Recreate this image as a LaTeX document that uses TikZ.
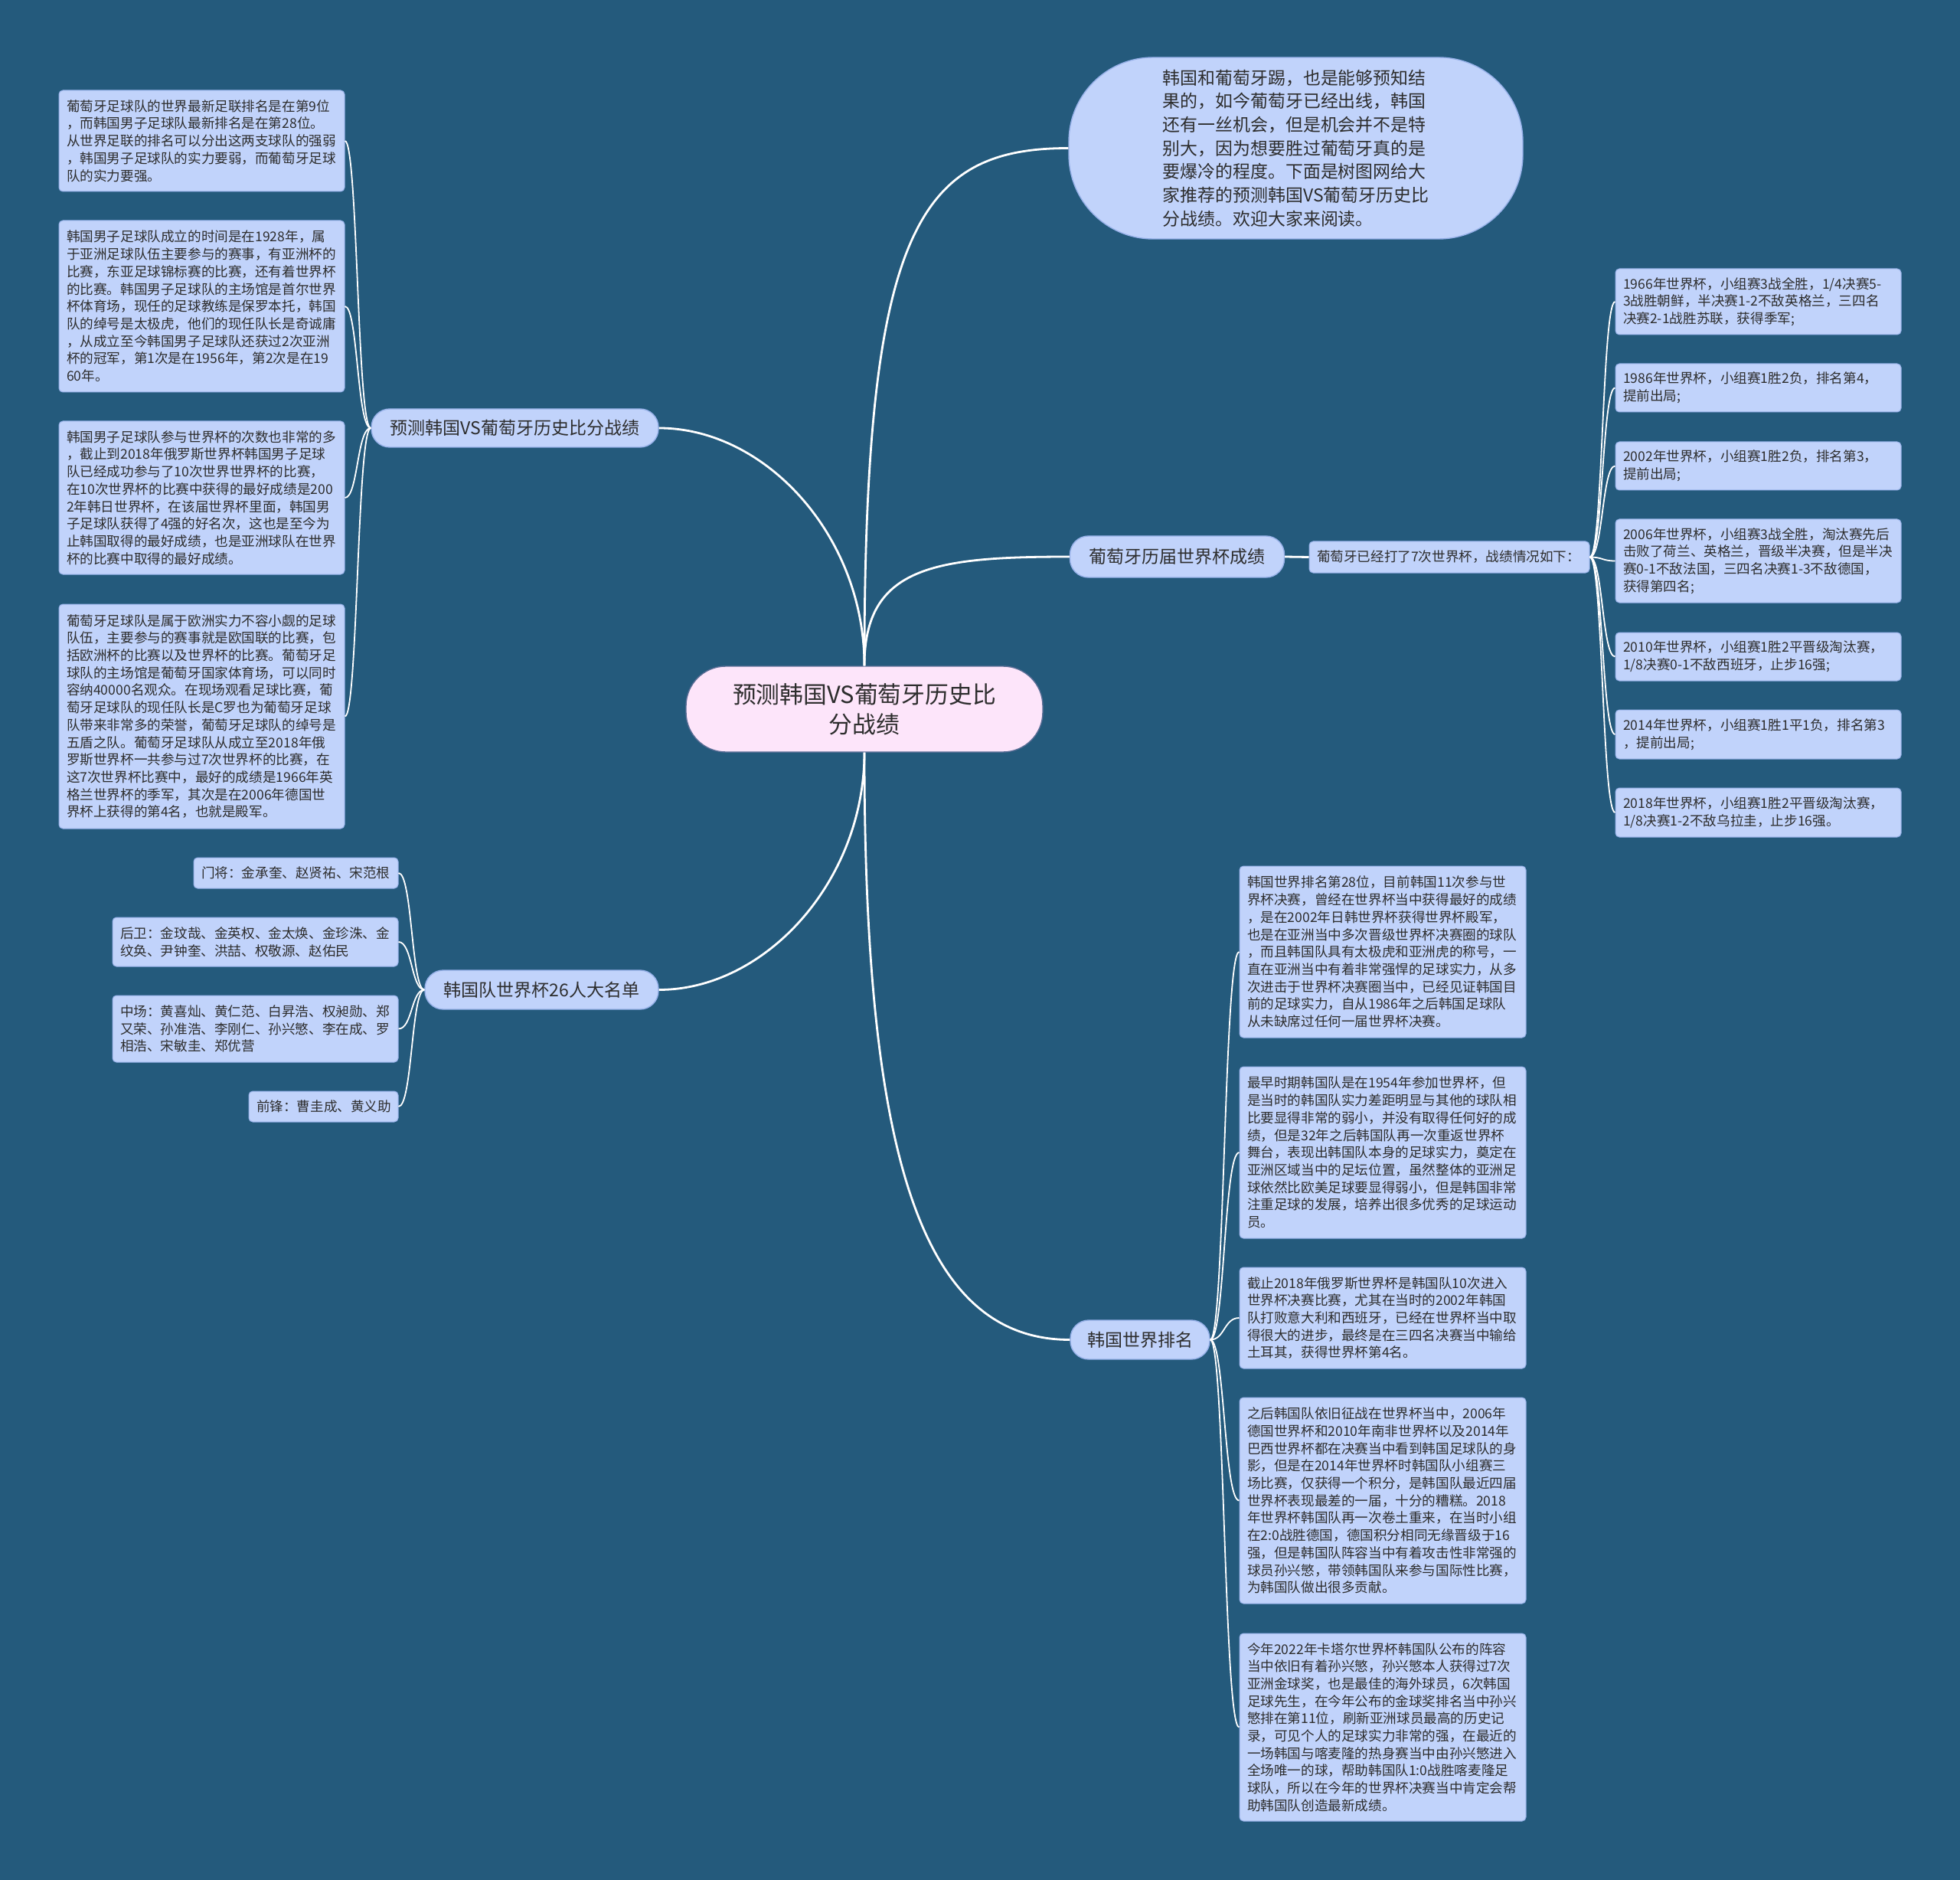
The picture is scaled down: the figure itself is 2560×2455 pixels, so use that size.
\documentclass[tikz,border=0pt]{standalone}
\usepackage{fontspec}
\setmainfont{Noto Sans CJK SC}
\usetikzlibrary{calc}
\definecolor{bg}{RGB}{36,90,124}
\definecolor{boxfill}{RGB}{193,211,251}
\definecolor{boxline}{RGB}{150,176,232}
\definecolor{ctrfill}{RGB}{253,229,250}
\definecolor{ctrline}{RGB}{90,110,150}
\definecolor{txt}{RGB}{45,45,45}
\tikzset{
  leaf/.style={draw=boxline, fill=boxfill, line width=0.5pt, rounded corners=2.5pt,
    font=\fontsize{8.8pt}{11.35pt}\selectfont, text=txt, align=left,
    inner xsep=5pt, inner ysep=0pt, anchor=center},
  branch/.style={draw=boxline, fill=boxfill, line width=0.7pt, rounded corners=12pt,
    font=\fontsize{11.5pt}{14pt}\selectfont, text=txt, align=center,
    inner sep=0pt, anchor=center},
  ctr/.style={draw=ctrline, fill=ctrfill, line width=0.7pt, rounded corners=26pt,
    font=\fontsize{15.4pt}{19.5pt}\selectfont, text=txt, align=center,
    inner sep=0pt, anchor=center},
  ovalbox/.style={draw=boxline, fill=boxfill, line width=0.7pt, rounded corners=55pt,
    font=\fontsize{11.45pt}{15.35pt}\selectfont, text=txt, align=left,
    inner sep=0pt, anchor=center},
  mainline/.style={draw=white, line width=1.4pt},
  leafcon/.style={draw=white, line width=0.9pt},
}
\begin{document}
\begin{tikzpicture}[x=0.5pt,y=-0.5pt]
\fill[bg] (0,0) rectangle (2560,2455);
\useasboundingbox (0,0) rectangle (2560,2455);

% central and main branches
\node[ctr, minimum width=233pt, minimum height=56pt] (c) at (1129,926) {预测韩国VS葡萄牙历史比\\分战绩};
\node[ovalbox, minimum width=296.5pt, minimum height=118.5pt] (o) at (1692.5,193.5) {韩国和葡萄牙踢，也是能够预知结\\果的，如今葡萄牙已经出线，韩国\\还有一丝机会，但是机会并不是特\\别大，因为想要胜过葡萄牙真的是\\要爆冷的程度。下面是树图网给大\\家推荐的预测韩国VS葡萄牙历史比\\分战绩。欢迎大家来阅读。};
\node[branch, minimum width=187.5pt, minimum height=25pt] (lb) at (672.5,559) {预测韩国VS葡萄牙历史比分战绩};
\node[branch, minimum width=140pt, minimum height=27pt] (pb) at (1537.5,727) {葡萄牙历届世界杯成绩};
\node[leaf, text width=173pt, minimum height=20.5pt] (ps) at (1893,727.5) {葡萄牙已经打了7次世界杯，战绩情况如下：};
\node[branch, minimum width=152.5pt, minimum height=25.5pt] (rb) at (707.5,1292.5) {韩国队世界杯26人大名单};
\node[branch, minimum width=91pt, minimum height=25.5pt] (kb) at (1489,1749.5) {韩国世界排名};

% left leaves
\node[leaf, text width=176.5pt, minimum height=66pt] (ll1) at (263.5,184) {葡萄牙足球队的世界最新足联排名是在第9位\\，而韩国男子足球队最新排名是在第28位。\\从世界足联的排名可以分出这两支球队的强弱\\，韩国男子足球队的实力要弱，而葡萄牙足球\\队的实力要强。};
\node[leaf, text width=176.5pt, minimum height=112pt] (ll2) at (263.5,400) {韩国男子足球队成立的时间是在1928年，属\\于亚洲足球队伍主要参与的赛事，有亚洲杯的\\比赛，东亚足球锦标赛的比赛，还有着世界杯\\的比赛。韩国男子足球队的主场馆是首尔世界\\杯体育场，现任的足球教练是保罗本托，韩国\\队的绰号是太极虎，他们的现任队长是奇诚庸\\，从成立至今韩国男子足球队还获过2次亚洲\\杯的冠军，第1次是在1956年，第2次是在19\\60年。};
\node[leaf, text width=176.5pt, minimum height=100pt] (ll3) at (263.5,650) {韩国男子足球队参与世界杯的次数也非常的多\\，截止到2018年俄罗斯世界杯韩国男子足球\\队已经成功参与了10次世界世界杯的比赛，\\在10次世界杯的比赛中获得的最好成绩是200\\2年韩日世界杯，在该届世界杯里面，韩国男\\子足球队获得了4强的好名次，这也是至今为\\止韩国取得的最好成绩，也是亚洲球队在世界\\杯的比赛中取得的最好成绩。};
\node[leaf, text width=176.5pt, minimum height=146.5pt] (ll4) at (263.5,935.5) {葡萄牙足球队是属于欧洲实力不容小觑的足球\\队伍，主要参与的赛事就是欧国联的比赛，包\\括欧洲杯的比赛以及世界杯的比赛。葡萄牙足\\球队的主场馆是葡萄牙国家体育场，可以同时\\容纳40000名观众。在现场观看足球比赛，葡\\萄牙足球队的现任队长是C罗也为葡萄牙足球\\队带来非常多的荣誉，葡萄牙足球队的绰号是\\五盾之队。葡萄牙足球队从成立至2018年俄\\罗斯世界杯一共参与过7次世界杯的比赛，在\\这7次世界杯比赛中，最好的成绩是1966年英\\格兰世界杯的季军，其次是在2006年德国世\\界杯上获得的第4名，也就是殿军。};

% roster leaves
\node[leaf, text width=123.5pt, minimum height=20pt] (r1) at (386.5,1140) {门将：金承奎、赵贤祐、宋范根};
\node[leaf, text width=176.5pt, minimum height=32pt] (r2) at (333.5,1230) {后卫：金玟哉、金英权、金太焕、金珍洙、金\\纹奂、尹钟奎、洪喆、权敬源、赵佑民};
\node[leaf, text width=176.5pt, minimum height=43.5pt] (r3) at (333.5,1343.5) {中场：黄喜灿、黄仁范、白昇浩、权昶勋、郑\\又荣、孙准浩、李刚仁、孙兴慜、李在成、罗\\相浩、宋敏圭、郑优营};
\node[leaf, text width=87.5pt, minimum height=20pt] (r4) at (422.5,1445) {前锋：曹圭成、黄义助};

% portugal leaves
\node[leaf, text width=176.5pt, minimum height=43pt] (p1) at (2296.5,394) {1966年世界杯，小组赛3战全胜，1/4决赛5-\\3战胜朝鲜，半决赛1-2不敌英格兰，三四名\\决赛2-1战胜苏联，获得季军;};
\node[leaf, text width=176.5pt, minimum height=31.5pt] (p2) at (2296.5,506.5) {1986年世界杯，小组赛1胜2负，排名第4，\\提前出局;};
\node[leaf, text width=176.5pt, minimum height=31.5pt] (p3) at (2296.5,608.5) {2002年世界杯，小组赛1胜2负，排名第3，\\提前出局;};
\node[leaf, text width=176.5pt, minimum height=54.5pt] (p4) at (2296.5,732.5) {2006年世界杯，小组赛3战全胜，淘汰赛先后\\击败了荷兰、英格兰，晋级半决赛，但是半决\\赛0-1不敌法国，三四名决赛1-3不敌德国，\\获得第四名;};
\node[leaf, text width=176.5pt, minimum height=31.5pt] (p5) at (2296.5,857.5) {2010年世界杯，小组赛1胜2平晋级淘汰赛，\\1/8决赛0-1不敌西班牙，止步16强;};
\node[leaf, text width=176.5pt, minimum height=32pt] (p6) at (2296.5,959) {2014年世界杯，小组赛1胜1平1负，排名第3\\，提前出局;};
\node[leaf, text width=176.5pt, minimum height=32pt] (p7) at (2296.5,1061) {2018年世界杯，小组赛1胜2平晋级淘汰赛，\\1/8决赛1-2不敌乌拉圭，止步16强。};

% korea ranking leaves
\node[leaf, text width=177pt, minimum height=112pt] (k1) at (1806,1243) {韩国世界排名第28位，目前韩国11次参与世\\界杯决赛，曾经在世界杯当中获得最好的成绩\\，是在2002年日韩世界杯获得世界杯殿军，\\也是在亚洲当中多次晋级世界杯决赛圈的球队\\，而且韩国队具有太极虎和亚洲虎的称号，一\\直在亚洲当中有着非常强悍的足球实力，从多\\次进击于世界杯决赛圈当中，已经见证韩国目\\前的足球实力，自从1986年之后韩国足球队\\从未缺席过任何一届世界杯决赛。};
\node[leaf, text width=177pt, minimum height=112pt] (k2) at (1806,1505) {最早时期韩国队是在1954年参加世界杯，但\\是当时的韩国队实力差距明显与其他的球队相\\比要显得非常的弱小，并没有取得任何好的成\\绩，但是32年之后韩国队再一次重返世界杯\\舞台，表现出韩国队本身的足球实力，奠定在\\亚洲区域当中的足坛位置，虽然整体的亚洲足\\球依然比欧美足球要显得弱小，但是韩国非常\\注重足球的发展，培养出很多优秀的足球运动\\员。};
\node[leaf, text width=177pt, minimum height=66pt] (k3) at (1806,1721) {截止2018年俄罗斯世界杯是韩国队10次进入\\世界杯决赛比赛，尤其在当时的2002年韩国\\队打败意大利和西班牙，已经在世界杯当中取\\得很大的进步，最终是在三四名决赛当中输给\\土耳其，获得世界杯第4名。};
\node[leaf, text width=177pt, minimum height=134.5pt] (k4) at (1806,1959.5) {之后韩国队依旧征战在世界杯当中，2006年\\德国世界杯和2010年南非世界杯以及2014年\\巴西世界杯都在决赛当中看到韩国足球队的身\\影，但是在2014年世界杯时韩国队小组赛三\\场比赛，仅获得一个积分，是韩国队最近四届\\世界杯表现最差的一届，十分的糟糕。2018\\年世界杯韩国队再一次卷土重来，在当时小组\\在2:0战胜德国，德国积分相同无缘晋级于16\\强，但是韩国队阵容当中有着攻击性非常强的\\球员孙兴慜，带领韩国队来参与国际性比赛，\\为韩国队做出很多贡献。};
\node[leaf, text width=177pt, minimum height=122.5pt] (k5) at (1806,2255.5) {今年2022年卡塔尔世界杯韩国队公布的阵容\\当中依旧有着孙兴慜，孙兴慜本人获得过7次\\亚洲金球奖，也是最佳的海外球员，6次韩国\\足球先生，在今年公布的金球奖排名当中孙兴\\慜排在第11位，刷新亚洲球员最高的历史记\\录，可见个人的足球实力非常的强，在最近的\\一场韩国与喀麦隆的热身赛当中由孙兴慜进入\\全场唯一的球，帮助韩国队1:0战胜喀麦隆足\\球队，所以在今年的世界杯决赛当中肯定会帮\\助韩国队创造最新成绩。};

% main connectors
\draw[mainline] (c.north) .. controls (1129,300) and (1200,193.5) .. (o.west);
\draw[mainline] (c.north) .. controls (1129,740) and (1220,727) .. (pb.west);
\draw[mainline] (c.north) .. controls (1129,700) and (1000,559) .. (lb.east);
\draw[mainline] (c.south) .. controls (1129,1150) and (1000,1292.5) .. (rb.east);
\draw[mainline] (c.south) .. controls (1129,1500) and (1200,1749.5) .. (kb.west);
\draw[mainline] (pb.east) -- (ps.west);

% leaf connectors
\foreach \n in {ll1,ll2,ll3,ll4}
  \draw[leafcon] (lb.west) .. controls ($(lb.west)+(-18,0)$) and ($(\n.east)+(17,0)$) .. (\n.east);
\foreach \n in {r1,r2,r3,r4}
  \draw[leafcon] (rb.west) .. controls ($(rb.west)+(-17,0)$) and ($(\n.east)+(18,0)$) .. (\n.east);
\foreach \n in {p1,p2,p3,p4,p5,p6,p7}
  \draw[leafcon] (ps.east) .. controls ($(ps.east)+(17,0)$) and ($(\n.west)+(-17,0)$) .. (\n.west);
\foreach \n in {k1,k2,k3,k4,k5}
  \draw[leafcon] (kb.east) .. controls ($(kb.east)+(19,0)$) and ($(\n.west)+(-20,0)$) .. (\n.west);
\end{tikzpicture}
\end{document}
